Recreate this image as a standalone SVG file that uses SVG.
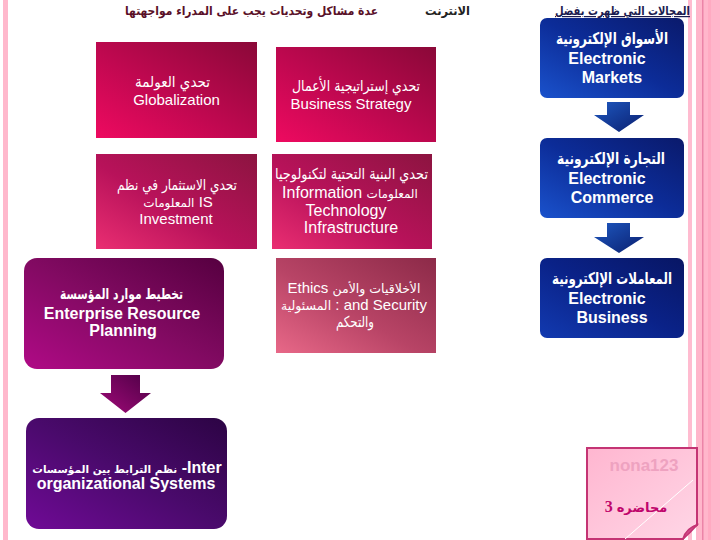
<svg xmlns="http://www.w3.org/2000/svg" width="720" height="540" viewBox="0 0 720 540">
<defs>
<linearGradient id="gCrimson" x1="0" y1="1" x2="1" y2="0">
<stop offset="0" stop-color="#ee0a60"/>
<stop offset="0.45" stop-color="#c00850"/>
<stop offset="1" stop-color="#8a0838"/>
</linearGradient>
<linearGradient id="gCrimson2" x1="0" y1="1" x2="1" y2="0">
<stop offset="0" stop-color="#ea2e72"/>
<stop offset="0.45" stop-color="#b8125a"/>
<stop offset="1" stop-color="#8c1440"/>
</linearGradient>
<linearGradient id="gRose" x1="0" y1="1" x2="1" y2="0">
<stop offset="0" stop-color="#e86888"/>
<stop offset="0.45" stop-color="#b84466"/>
<stop offset="1" stop-color="#8c2a48"/>
</linearGradient>
<linearGradient id="gMagenta" x1="0" y1="1" x2="1" y2="0">
<stop offset="0" stop-color="#b00a86"/>
<stop offset="0.5" stop-color="#820a62"/>
<stop offset="1" stop-color="#560040"/>
</linearGradient>
<linearGradient id="gViolet" x1="0" y1="1" x2="1" y2="0">
<stop offset="0" stop-color="#700a96"/>
<stop offset="0.5" stop-color="#4a0a6c"/>
<stop offset="1" stop-color="#2c0444"/>
</linearGradient>
<linearGradient id="gArrowP" x1="0" y1="1" x2="1" y2="0">
<stop offset="0" stop-color="#a00a78"/>
<stop offset="1" stop-color="#4e0046"/>
</linearGradient>
<linearGradient id="gBlue" x1="0" y1="1" x2="1" y2="0">
<stop offset="0" stop-color="#1a52cc"/>
<stop offset="0.5" stop-color="#0c2c98"/>
<stop offset="1" stop-color="#0a1a6c"/>
</linearGradient>
<linearGradient id="gBlue2" x1="0" y1="1" x2="1" y2="0">
<stop offset="0" stop-color="#123ab0"/>
<stop offset="0.5" stop-color="#0a2288"/>
<stop offset="1" stop-color="#081664"/>
</linearGradient>
<linearGradient id="gArrowB" x1="0" y1="0" x2="1" y2="1">
<stop offset="0" stop-color="#1e58c0"/>
<stop offset="1" stop-color="#0a1e6e"/>
</linearGradient>
<linearGradient id="gNote" x1="0" y1="0" x2="1" y2="1">
<stop offset="0" stop-color="#ffb6d0"/>
<stop offset="1" stop-color="#ffd6e6"/>
</linearGradient>
<style>
.f{font-family:"Liberation Sans","DejaVu Sans",sans-serif;}
.w{fill:#ffffff;font-size:15px;}
.wb{fill:#ffffff;font-size:16px;font-weight:bold;}
.c{text-anchor:middle;}
.hd{font-size:12px;font-weight:bold;}
.ar{font-family:"DejaVu Sans",sans-serif;}
</style>
</defs>

<g id="stripes">
<rect x="3" y="0" width="5" height="540" fill="#ffb8cc"/>
<rect x="688" y="0" width="4" height="540" fill="#ffbcd0"/>
<rect x="696" y="0" width="24" height="540" fill="#ffb6cb"/>
<rect x="702" y="0" width="1.5" height="540" fill="#ec84a8"/>
<rect x="708" y="0" width="3" height="540" fill="#ffaac2"/>
</g>

<g id="headers" class="f hd">
<text class="ar" x="555" y="15" textLength="135" lengthAdjust="spacingAndGlyphs" fill="#1c1c50" text-decoration="underline">المجالات التي ظهرت بفضل</text>
<text class="ar" x="425" y="15" textLength="45" lengthAdjust="spacingAndGlyphs" fill="#222222">الانترنت</text>
<text class="ar" x="125" y="15" textLength="253" lengthAdjust="spacingAndGlyphs" fill="#5a1028">عدة مشاكل وتحديات يجب على المدراء مواجهتها</text>
</g>

<g id="connectors">
<path d="M607,102 H630 V115 H644 L619,132 L594,115 H607 Z" fill="url(#gArrowB)"/>
<path d="M607,223 H630 V237 H644 L619,253 L594,237 H607 Z" fill="url(#gArrowB)"/>
<path d="M111,375 H140 V393 H151 L125.5,413 L100,393 H111 Z" fill="url(#gArrowP)"/>
</g>

<g id="globalization" class="f">
<rect x="96" y="42" width="161" height="96" fill="url(#gCrimson)"/>
<text class="w ar" x="135" y="87" textLength="75" lengthAdjust="spacingAndGlyphs">تحدي العولمة</text>
<text class="w c" x="176.5" y="105">Globalization</text>
</g>

<g id="business-strategy" class="f">
<rect x="276" y="47" width="160" height="95" fill="url(#gCrimson)"/>
<text class="w ar" x="292" y="91" textLength="128" lengthAdjust="spacingAndGlyphs">تحدي إستراتيجية الأعمال</text>
<text class="w c" x="351" y="109">Business Strategy</text>
</g>

<g id="is-investment" class="f">
<rect x="96" y="154" width="161" height="95" fill="url(#gCrimson2)"/>
<text class="w ar" x="117" y="190" textLength="120" lengthAdjust="spacingAndGlyphs">تحدي الاستثمار في نظم</text>
<text class="w c" x="178" y="207"><tspan class="ar" style="font-size:12px">المعلومات</tspan>  IS</text>
<text class="w c" x="176" y="224">Investment</text>
</g>

<g id="it-infrastructure" class="f">
<rect x="272" y="154" width="160" height="95" fill="url(#gCrimson2)"/>
<text class="w ar" x="275" y="179" textLength="153" lengthAdjust="spacingAndGlyphs">تحدي البنية التحتية لتكنولوجيا</text>
<text class="w c" x="350" y="198" style="font-size:16px">Information  <tspan class="ar" style="font-size:12px">المعلومات</tspan></text>
<text class="w c" x="346" y="216" style="font-size:16px">Technology</text>
<text class="w c" x="351" y="233" style="font-size:16px">Infrastructure</text>
</g>

<g id="ethics" class="f">
<rect x="276" y="258" width="160" height="95" fill="url(#gRose)"/>
<text class="w c" x="354" y="293">Ethics  <tspan class="ar" style="font-size:12.5px">الأخلاقيات والأمن</tspan></text>
<text class="w c" x="354" y="310"><tspan class="ar" style="font-size:12.5px">المسئولية</tspan> : and Security</text>
<text class="w ar" x="336" y="327" textLength="38" lengthAdjust="spacingAndGlyphs">والتحكم</text>
</g>

<g id="erp" class="f">
<rect x="24" y="258" width="200" height="111" rx="13" fill="url(#gMagenta)"/>
<text class="wb ar" x="60" y="299" style="font-size:15px" textLength="123" lengthAdjust="spacingAndGlyphs">تخطيط موارد المؤسسة</text>
<text class="wb c" x="122" y="319">Enterprise Resource</text>
<text class="wb c" x="123" y="336">Planning</text>
</g>

<g id="inter-org" class="f">
<rect x="26" y="418" width="201" height="111" rx="13" fill="url(#gViolet)"/>
<text class="wb c" x="127" y="473"><tspan class="ar" style="font-size:10.5px">نظم الترابط بين المؤسسات</tspan> -Inter</text>
<text class="wb c" x="126" y="489">organizational Systems</text>
</g>

<g id="electronic-markets" class="f">
<rect x="540" y="18" width="144" height="80" rx="7" fill="url(#gBlue)"/>
<text class="wb ar" x="556" y="44" textLength="112" lengthAdjust="spacingAndGlyphs">الأسواق الإلكترونية</text>
<text class="wb c" x="607" y="64">Electronic</text>
<text class="wb c" x="612" y="83">Markets</text>
</g>

<g id="electronic-commerce" class="f">
<rect x="540" y="138" width="144" height="80" rx="7" fill="url(#gBlue)"/>
<text class="wb ar" x="557" y="164" textLength="108" lengthAdjust="spacingAndGlyphs">التجارة الإلكترونية</text>
<text class="wb c" x="607" y="184">Electronic</text>
<text class="wb c" x="612" y="203">Commerce</text>
</g>

<g id="electronic-business" class="f">
<rect x="540" y="258" width="144" height="80" rx="7" fill="url(#gBlue2)"/>
<text class="wb ar" x="552" y="284" textLength="120" lengthAdjust="spacingAndGlyphs">المعاملات الإلكترونية</text>
<text class="wb c" x="607" y="304">Electronic</text>
<text class="wb c" x="612" y="323">Business</text>
</g>

<g id="note">
<path d="M587,448 H697 V525 Q690,528 683,539 H587 Z" fill="url(#gNote)" stroke="#c43474" stroke-width="2"/>
<line x1="625" y1="539" x2="693" y2="480" stroke="#ffffff" stroke-width="1"/>
<path d="M683,539 Q686,528 697,525 Q690,533 683,539 Z" fill="#d04a88" stroke="#c43474" stroke-width="1.5"/>
<text x="644" y="471" text-anchor="middle" font-family="Liberation Sans, DejaVu Sans, sans-serif" font-size="17" font-weight="bold" fill="#eea2c0">nona123</text>
<text x="636" y="512" text-anchor="middle" font-family="Liberation Serif, DejaVu Serif, serif" font-size="16" font-weight="bold" fill="#c0066c">3 <tspan font-family="DejaVu Sans, serif" font-size="13">محاضره</tspan></text>
</g>
</svg>
